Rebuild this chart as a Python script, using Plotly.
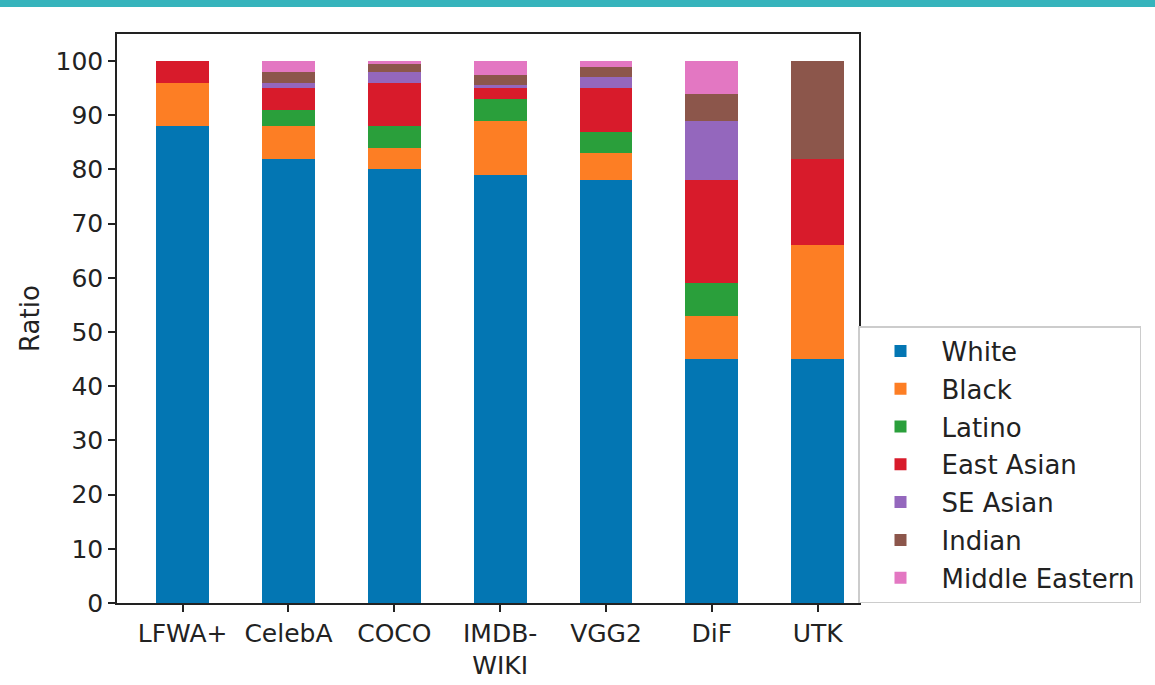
import plotly.graph_objects as go

datasets = ["LFWA+", "CelebA", "COCO", "IMDB-<br>WIKI", "VGG2", "DiF", "UTK"]
white = [88, 82, 80, 79, 78, 45, 45]
black = [8, 6, 4, 10, 5, 8, 21]
latino = [0, 3, 4, 4, 4, 6, 0]
east_asian = [4, 4, 8, 2, 8, 19, 16]
se_asian = [0, 1, 2, 0.5, 2, 11, 0]
indian = [0, 2, 1.5, 2, 2, 5, 18]
middle_eastern = [0, 2, 0.5, 2.5, 1, 6, 0]

series = [
    ("White", white, "#0376B3"),
    ("Black", black, "#FD7E24"),
    ("Latino", latino, "#2A9F3B"),
    ("East Asian", east_asian, "#D81B2B"),
    ("SE Asian", se_asian, "#9467BD"),
    ("Indian", indian, "#8C564B"),
    ("Middle Eastern", middle_eastern, "#E377C2"),
]

FONT = "DejaVu Sans"
fig = go.Figure()
for name, vals, color in series:
    fig.add_trace(go.Bar(
        x=list(range(len(datasets))), y=vals, name=name, width=0.5,
        marker=dict(color=color, line=dict(width=0)),
        legendgroup=name,
    ))

W, H = 1155, 685
L, R, T, B = 117, 296, 34, 82
pw, ph = W - L - R, H - T - B

fig.update_layout(
    width=W, height=H, barmode="stack",
    margin=dict(l=L, r=R, t=T, b=B, autoexpand=False),
    plot_bgcolor="white", paper_bgcolor="white",
    font=dict(family=FONT, size=25, color="#222"),
    xaxis=dict(
        range=[-0.62, 6.39], tickmode="array",
        tickvals=list(range(len(datasets))), ticktext=datasets,
        showline=True, linecolor="#222", linewidth=1.5, mirror=True,
        ticks="outside", ticklen=7, tickwidth=1.5, tickcolor="#222",
        showgrid=False, zeroline=False, tickfont=dict(size=25),
        automargin=False,
    ),
    yaxis=dict(
        range=[0, 105], tickmode="array", tickvals=list(range(0, 101, 10)),
        showline=True, linecolor="#222", linewidth=1.5, mirror=True,
        ticks="outside", ticklen=7, tickwidth=1.5, tickcolor="#222",
        showgrid=False, zeroline=False, tickfont=dict(size=25),
        title=dict(text="Ratio", font=dict(size=26), standoff=8),
        automargin=False,
    ),
    legend=dict(
        x=(858 - L) / pw, y=0, xanchor="left", yanchor="bottom",
        traceorder="grouped", tracegroupgap=1,
        bordercolor="#cccccc", borderwidth=1.5, bgcolor="white",
        font=dict(size=26), itemwidth=72,
    ),
    showlegend=True,
)

fig.add_shape(type="rect", xref="paper", yref="paper",
              x0=-L / pw, x1=(W - L) / pw, y0=1 + (T - 7) / ph, y1=1 + T / ph + 0.01,
              fillcolor="#36B4BC", line=dict(width=0), layer="above")

fig.write_html("out.html", config={"displayModeBar": False},
               post_script="document.body.style.margin='0';")
